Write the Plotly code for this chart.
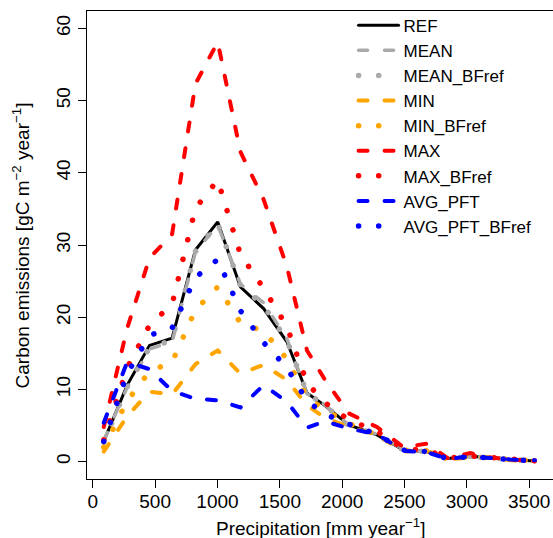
import plotly.graph_objects as go

# precipitation bins (mm/year)
precip = [88, 276, 455, 636, 823, 1002, 1184, 1370, 1557, 1718,
          1860, 2052, 2279, 2493, 2680, 2845, 3027, 3173, 3347, 3547]

ref = [2.8, 10.6, 16.1, 17.1, 29.3, 33.2, 24.2, 21.2, 16.6, 9.5,
       7.8, 5.1, 3.7, 1.6, 1.4, 0.45, 0.7, 0.6, 0.3, 0.1]
mean = [2.9, 10.3, 15.6, 16.6, 29.0, 32.8, 24.6, 22.0, 17.0, 9.4,
        7.9, 5.1, 3.8, 1.7, 1.4, 0.5, 0.7, 0.6, 0.3, 0.1]
mean_bfref = [2.7, 10.4, 15.8, 16.8, 29.1, 33.0, 24.4, 21.6, 16.8, 9.5,
              7.8, 5.0, 3.7, 1.6, 1.4, 0.5, 0.7, 0.6, 0.3, 0.1]
min_ = [1.4, 6.3, 9.7, 9.3, 13.5, 15.4, 12.2, 13.4, 11.3, 7.8,
        6.1, 4.8, 3.7, 1.4, 1.6, 0.3, 0.6, 0.6, 0.2, 0.1]
min_bfref = [2.0, 8.4, 12.5, 13.8, 21.0, 24.2, 19.2, 18.1, 14.2, 8.9,
             7.2, 5.3, 3.7, 1.6, 1.5, 0.4, 0.7, 0.5, 0.2, 0.1]
max_ = [4.8, 18.5, 28.2, 31.5, 52.3, 58.1, 42.9, 36.3, 27.0, 15.4,
        11.4, 6.7, 4.8, 2.0, 2.5, 0.5, 1.2, 0.6, 0.3, 0.1]
max_bfref = [3.0, 13.0, 18.9, 21.8, 35.1, 39.0, 28.7, 24.0, 18.7, 10.9,
             8.2, 5.8, 4.2, 1.8, 1.6, 0.5, 0.8, 0.6, 0.3, 0.1]
avg_pft = [5.4, 13.8, 12.8, 9.8, 8.7, 8.5, 7.5, 10.6, 8.3, 4.7,
           5.6, 4.6, 3.8, 1.5, 1.3, 0.4, 0.7, 0.5, 0.3, 0.2]
avg_pft_bfref = [2.8, 12.2, 17.5, 18.5, 25.5, 28.0, 20.9, 16.5, 13.0, 8.4,
                 6.6, 5.2, 3.8, 1.6, 1.4, 0.4, 0.7, 0.6, 0.3, 0.1]

x_ticks = [0, 500, 1000, 1500, 2000, 2500, 3000, 3500]
y_ticks = [0, 10, 20, 30, 40, 50, 60]

DASH = "9px,17px"
DOT = "0.1px,20px"

series = [
    ("REF", ref, "black", "solid", 3),
    ("MEAN", mean, "#aaaaaa", DASH, 3.5),
    ("MEAN_BFref", mean_bfref, "#aaaaaa", DOT, 5.5),
    ("MIN", min_, "#ffa500", DASH, 4),
    ("MIN_BFref", min_bfref, "#ffa500", DOT, 5.5),
    ("MAX", max_, "#ff0000", DASH, 4),
    ("MAX_BFref", max_bfref, "#ff0000", DOT, 5.5),
    ("AVG_PFT", avg_pft, "#0000ff", DASH, 4),
    ("AVG_PFT_BFref", avg_pft_bfref, "#0000ff", DOT, 5.5),
]

fig = go.Figure()
for name, vals, col, dash, w in series:
    fig.add_trace(go.Scatter(x=precip, y=vals, name=name, mode="lines",
                             line=dict(color=col, dash=dash, width=w)))

font = "Liberation Sans, Arial, sans-serif"
fig.update_layout(
    width=553, height=538,
    margin=dict(l=87, r=0, t=11, b=59),
    paper_bgcolor="white", plot_bgcolor="white",
    font=dict(family=font, size=19, color="black"),
    showlegend=True,
    legend=dict(x=0.572, y=1.007, xanchor="left", yanchor="top",
                bgcolor="rgba(0,0,0,0)", font=dict(size=17),
                itemwidth=40, tracegroupgap=0),
)
fig.update_xaxes(
    range=[-46.5, 3691], tickvals=x_ticks, automargin=False,
    ticks="outside", ticklen=8, tickcolor="black", showgrid=False, zeroline=False,
    showline=True, linecolor="black", linewidth=1, mirror=True,
    ticklabelstandoff=-3,
)
fig.update_yaxes(
    range=[-2.4, 62.4], tickvals=y_ticks, tickangle=-90, automargin=False,
    ticks="outside", ticklen=8, tickcolor="black", showgrid=False, zeroline=False,
    showline=True, linecolor="black", linewidth=1,
)

# axis titles
fig.add_annotation(text="Precipitation [mm year<sup>\u22121</sup>]",
                   xref="paper", yref="paper", x=0.5, y=-0.103,
                   xanchor="center", yanchor="middle", showarrow=False,
                   font=dict(size=19))
fig.add_annotation(text="Carbon emissions [gC m<sup>\u22122</sup> year<sup>\u22121</sup>]",
                   xref="paper", yref="paper", x=-0.1406, y=0.5, textangle=-90,
                   xanchor="center", yanchor="middle", showarrow=False,
                   font=dict(size=19))

# no page margin; round line caps like R's default lend
post = ("document.body.style.margin='0';"
        "document.querySelectorAll('path.js-line').forEach(function(p){p.style.strokeLinecap='round';});")
fig.write_html("out.html", post_script=post, config={"displayModeBar": False})
